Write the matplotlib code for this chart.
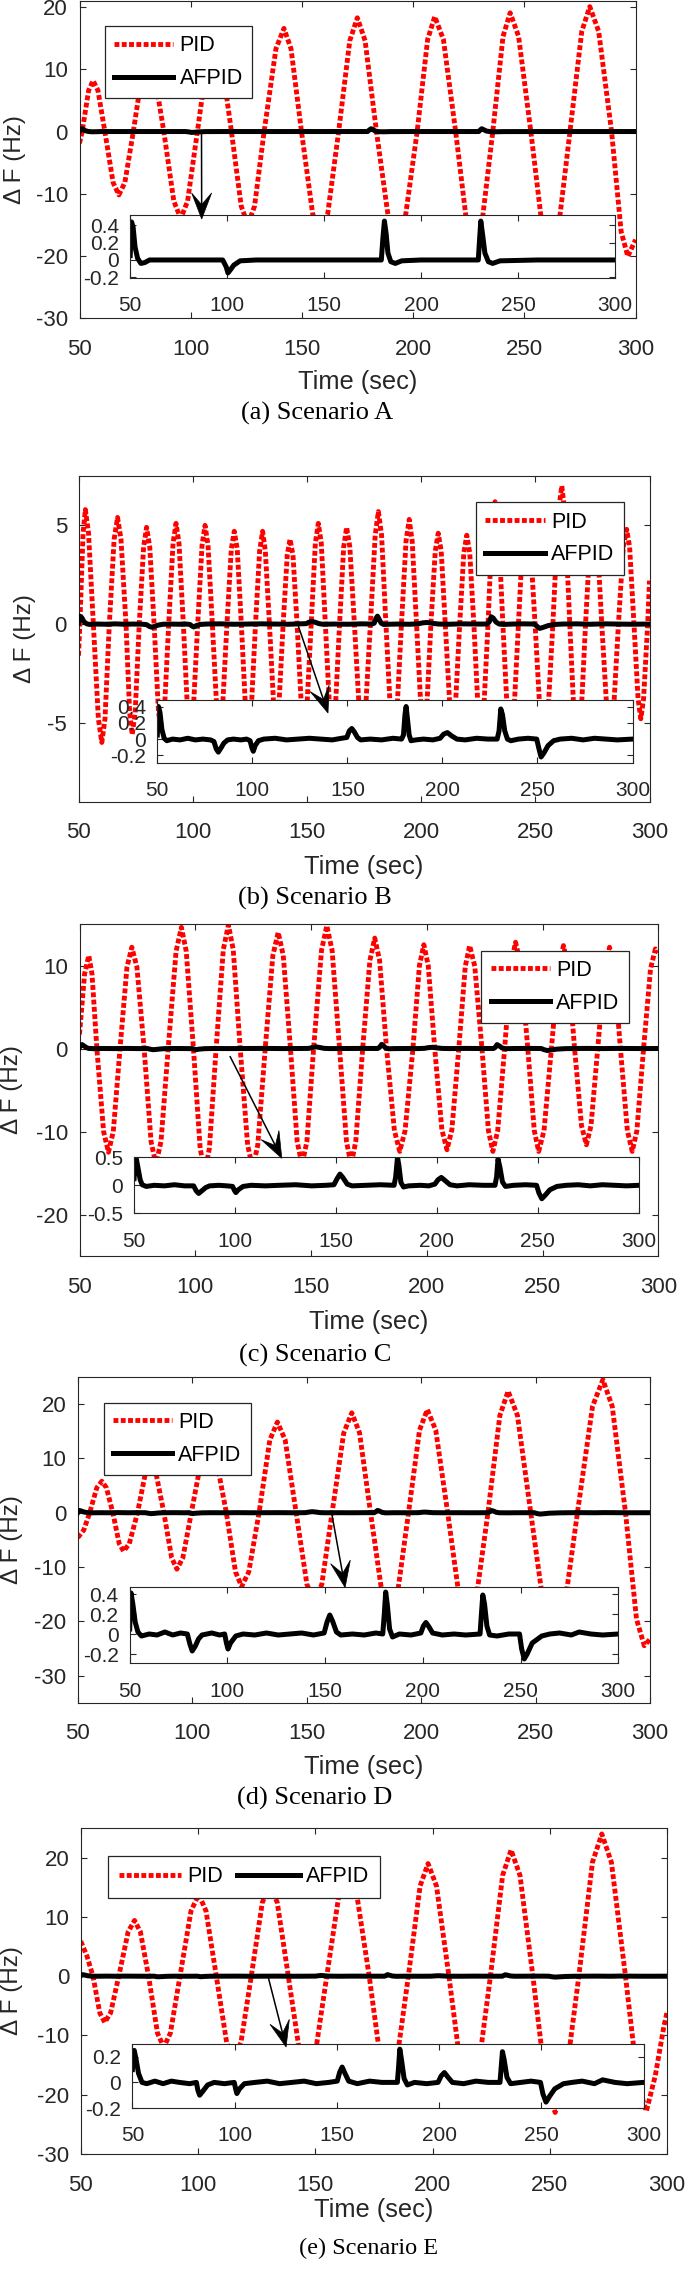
import matplotlib
matplotlib.use("Agg")
import matplotlib.pyplot as plt
from matplotlib.patches import Polygon
from matplotlib.lines import Line2D

plt.rcParams['font.family'] = ['Liberation Sans', 'DejaVu Sans']
plt.rcParams['axes.unicode_minus'] = False

# ------------------------------------------------------------------ data
time_ticks = [50, 100, 150, 200, 250, 300]
series_names = ['PID', 'AFPID']
captions = ['(a) Scenario A', '(b) Scenario B', '(c) Scenario C',
            '(d) Scenario D', '(e) Scenario E']
x_label = 'Time (sec)'
y_label = 'Δ F (Hz)'

pid_a = [(50.0, -1.9), (51.2, 0), (54.1, 6.6), (56.1, 8.2), (58.3, 6.6), (61.4, 0),
         (65.1, -8.2), (67.7, -10.2), (70.4, -8.2), (74.2, 0),
         (78.1, 9.2), (80.8, 11.5), (83.7, 9.2), (87.9, 0),
         (92.4, -11.2), (95.5, -14.0), (98.6, -11.2), (103.0, 0),
         (107.5, 11.6), (110.6, 14.5), (113.8, 11.6), (118.3, 0),
         (122.7, -12.0), (125.7, -15.0), (128.7, -12.0), (133.0, 0),
         (138.3, 13.3), (141.9, 16.6), (145.1, 13.3), (149.8, 0),
         (154.8, -13.2), (158.2, -16.5), (161.6, -13.2), (166.5, 0),
         (171.5, 14.6), (174.9, 18.3), (178.4, 14.6), (183.5, 0),
         (188.9, -14.0), (192.6, -17.5), (196.4, -14.0), (201.8, 0),
         (206.5, 14.8), (209.7, 18.5), (213.6, 14.8), (219.1, 0),
         (224.1, -14.8), (227.5, -18.5), (230.9, -14.8), (235.8, 0),
         (240.4, 15.3), (243.6, 19.1), (247.4, 15.3), (252.9, 0),
         (258.1, -15.6), (261.7, -19.5), (265.3, -15.6), (270.5, 0),
         (275.8, 16.1), (279.4, 20.1), (283.4, 16.1), (289.2, 0),
         (293.5, -16.1), (296.5, -20.1), (300.0, -17.4)]

pid_b = [(50.0, -1.6), (50.6, 0),
         (52.0, 4.6), (53.0, 5.8), (54.4, 4.6), (56.5, 0),
         (58.7, -4.8), (60.2, -6.0), (61.6, -4.8), (63.5, 0),
         (65.6, 4.3), (67.1, 5.4), (68.6, 4.3), (70.8, 0),
         (72.4, -4.5), (73.5, -5.6), (74.8, -4.5), (76.6, 0),
         (78.5, 3.9), (79.8, 4.9), (81.2, 3.9), (83.1, 0),
         (85.0, -4.4), (86.3, -5.5), (87.6, -4.4), (89.5, 0),
         (91.4, 4.1), (92.7, 5.1), (94.0, 4.1), (95.9, 0),
         (97.7, -4.3), (99.0, -5.4), (100.3, -4.3), (102.2, 0),
         (104.1, 4.0), (105.4, 5.0), (106.7, 4.0), (108.6, 0),
         (110.5, -4.2), (111.8, -5.3), (113.1, -4.2), (115.0, 0),
         (116.9, 3.8), (118.2, 4.7), (119.5, 3.8), (121.3, 0),
         (123.1, -4.2), (124.4, -5.2), (125.7, -4.2), (127.5, 0),
         (129.3, 3.7), (130.6, 4.7), (131.8, 3.7), (133.6, 0),
         (135.4, -4.0), (136.6, -5.0), (137.8, -4.0), (139.6, 0),
         (141.4, 3.5), (142.6, 4.3), (143.9, 3.5), (145.7, 0),
         (147.5, -4.0), (148.8, -5.0), (150.1, -4.0), (151.9, 0),
         (153.7, 4.1), (155.0, 5.1), (156.3, 4.1), (158.1, 0),
         (159.9, -4.2), (161.2, -5.2), (162.5, -4.2), (164.3, 0),
         (166.1, 3.9), (167.4, 4.9), (168.8, 3.9), (170.8, 0),
         (172.9, -4.3), (174.3, -5.4), (175.7, -4.3), (177.8, 0),
         (179.9, 4.5), (181.3, 5.7), (182.7, 4.5), (184.6, 0),
         (186.6, -4.5), (188.0, -5.6), (189.4, -4.5), (191.4, 0),
         (193.4, 4.2), (194.8, 5.3), (196.1, 4.2), (198.0, 0),
         (199.9, -4.2), (201.2, -5.2), (202.5, -4.2), (204.3, 0),
         (206.2, 3.7), (207.5, 4.6), (208.8, 3.7), (210.6, 0),
         (212.5, -4.0), (213.8, -5.0), (215.1, -4.0), (216.9, 0),
         (218.7, 3.6), (220.0, 4.5), (221.3, 3.6), (223.1, 0),
         (224.9, -4.2), (226.2, -5.2), (227.5, -4.2), (229.3, 0),
         (231.1, 5.0), (232.4, 6.2), (233.8, 5.0), (235.8, 0),
         (237.8, -4.6), (239.2, -5.8), (240.6, -4.6), (242.6, 0),
         (244.6, 4.5), (246.0, 5.6), (247.6, 4.5), (249.9, 0),
         (252.2, -4.8), (253.8, -6.0), (255.4, -4.8), (257.7, 0),
         (260.0, 5.6), (261.6, 7.0), (263.0, 5.6), (265.1, 0),
         (267.1, -5.0), (268.5, -6.2), (269.9, -5.0), (272.0, 0),
         (274.1, 4.5), (275.5, 5.6), (277.0, 4.5), (279.1, 0),
         (281.3, -4.3), (282.8, -5.4), (284.3, -4.3), (286.4, 0),
         (288.5, 3.9), (290.0, 4.8), (291.3, 3.9), (293.2, 0),
         (295.0, -3.8), (296.2, -4.8), (297.4, -3.8), (299.2, 0),
         (300.0, 2.2)]

pid_c = [(50.0, 1.7), (52.2, 9.0), (54.0, 11.2), (55.4, 9.0), (57.5, 0),
         (60.4, -10.0), (62.5, -12.5), (64.6, -10.0), (67.5, 0),
         (70.5, 9.8), (72.6, 12.2), (74.8, 9.8), (77.9, 0),
         (80.9, -11.2), (83.0, -14.0), (85.2, -11.2), (88.3, 0),
         (91.7, 11.7), (94.0, 14.6), (96.1, 11.7), (99.2, 0),
         (102.1, -12.0), (104.1, -15.0), (106.1, -12.0), (109.0, 0),
         (112.1, 11.9), (114.3, 14.9), (116.4, 11.9), (119.4, 0),
         (122.6, -11.6), (124.8, -14.5), (127.0, -11.6), (130.2, 0),
         (133.5, 11.2), (135.8, 14.0), (138.0, 11.2), (141.1, 0),
         (144.0, -11.2), (146.1, -14.0), (148.2, -11.2), (151.1, 0),
         (154.5, 11.8), (156.8, 14.8), (159.1, 11.8), (162.3, 0),
         (165.3, -11.2), (167.3, -14.0), (169.3, -11.2), (172.3, 0),
         (175.4, 10.6), (177.5, 13.3), (179.6, 10.6), (182.6, 0),
         (186.0, -9.9), (188.3, -12.4), (190.6, -9.9), (194.0, 0),
         (196.8, 10.0), (198.7, 12.5), (200.6, 10.0), (203.4, 0),
         (206.5, -9.8), (208.7, -12.2), (210.8, -9.8), (213.8, 0),
         (216.6, 9.9), (218.5, 12.4), (220.7, 9.9), (223.8, 0),
         (226.6, -9.9), (228.5, -12.4), (230.6, -9.9), (233.6, 0),
         (236.4, 10.2), (238.3, 12.8), (240.5, 10.2), (243.6, 0),
         (246.4, -9.9), (248.3, -12.4), (250.6, -9.9), (253.8, 0),
         (256.9, 9.9), (259.0, 12.4), (261.0, 9.9), (263.8, 0),
         (266.8, -9.3), (268.9, -11.6), (270.9, -9.3), (273.8, 0),
         (276.8, 9.8), (278.9, 12.2), (280.8, 9.8), (283.6, 0),
         (286.6, -9.9), (288.7, -12.4), (290.7, -9.9), (293.6, 0),
         (296.6, 9.6), (298.7, 12.0), (300.0, 11.6)]

pid_d = [(50.0, -4.6), (52.6, -3.2), (55.2, 0),
         (58.3, 4.6), (60.5, 5.8), (62.5, 4.6), (65.3, 0),
         (68.1, -5.7), (70.0, -7.1), (72.5, -5.7), (76.1, 0),
         (79.5, 7.2), (81.9, 9.0), (84.2, 7.2), (87.6, 0),
         (91.0, -8.3), (93.3, -10.4), (95.9, -8.3), (99.6, 0),
         (104.1, 10.0), (107.3, 12.5), (110.4, 10.0), (114.9, 0),
         (118.9, -10.9), (121.6, -13.6), (124.7, -10.9), (129.2, 0),
         (133.9, 13.4), (137.2, 16.7), (140.6, 13.4), (145.4, 0),
         (150.1, -13.2), (153.4, -16.5), (156.6, -13.2), (161.1, 0),
         (166.2, 14.7), (169.7, 18.4), (173.1, 14.7), (177.9, 0),
         (182.9, -14.8), (186.3, -18.5), (189.7, -14.8), (194.5, 0),
         (199.3, 15.2), (202.7, 19.0), (206.4, 15.2), (211.6, 0),
         (216.8, -16.0), (220.4, -20.0), (224.0, -16.0), (229.2, 0),
         (234.4, 17.9), (238.0, 22.4), (242.1, 17.9), (247.9, 0),
         (253.9, -18.4), (258.1, -23.0), (262.3, -18.4), (268.3, 0),
         (274.9, 19.6), (279.4, 24.5), (283.5, 19.6), (289.3, 0),
         (294.1, -19.6), (297.5, -24.5), (300.0, -23.3)]

pid_e = [(50.0, 5.9), (52.7, 3.3), (55.2, 0),
         (58.1, -6.2), (60.2, -7.8), (62.7, -6.2), (66.2, 0),
         (70.2, 7.5), (72.9, 9.4), (75.4, 7.5), (78.9, 0),
         (82.7, -9.6), (85.4, -12.0), (88.2, -9.6), (92.3, 0),
         (97.0, 11.0), (100.3, 13.8), (103.4, 11.0), (107.8, 0),
         (112.2, -11.2), (115.2, -14.0), (118.3, -11.2), (122.7, 0),
         (127.4, 12.4), (130.6, 15.5), (133.8, 12.4), (138.5, 0),
         (143.3, -12.8), (146.7, -16.0), (150.1, -12.8), (154.9, 0),
         (160.2, 14.0), (163.8, 17.5), (167.6, 14.0), (173.0, 0),
         (177.9, -14.4), (181.3, -18.0), (184.7, -14.4), (189.7, 0),
         (194.7, 15.2), (198.1, 19.0), (201.7, 15.2), (207.0, 0),
         (212.2, -16.0), (215.8, -20.0), (219.4, -16.0), (224.7, 0),
         (229.9, 17.0), (233.5, 21.3), (237.3, 17.0), (242.8, 0),
         (248.4, -18.4), (252.3, -23.0), (256.4, -18.4), (262.4, 0),
         (268.2, 19.2), (272.2, 24.0), (276.3, 19.2), (282.3, 0),
         (287.6, -18.2), (291.2, -22.8), (295.0, -16.8), (298.7, -8.4),
         (300.0, -6.1)]

afpid_a = [(50.0, 0.05), (50.7, 0.44), (51.5, 0.38), (52.5, 0.15), (53.8, 0.02),
           (55.5, -0.04), (57.5, -0.03), (60.0, 0.0), (75.0, 0.0), (90.0, 0.0),
           (97.7, 0.0), (99.5, -0.08), (100.4, -0.15), (101.8, -0.11), (103.4, -0.06),
           (106.7, -0.01), (115.0, 0.0), (140.0, 0.0), (160.0, 0.0), (179.5, 0.0),
           (180.3, 0.25), (181.1, 0.45), (182.0, 0.30), (182.9, 0.08), (184.4, -0.02),
           (186.7, -0.04), (190.0, -0.01), (200.0, 0.0), (215.0, 0.0), (229.5, 0.0),
           (230.2, 0.25), (230.8, 0.45), (231.8, 0.28), (232.9, 0.08), (234.7, -0.02),
           (236.9, -0.04), (240.7, -0.01), (260.0, 0.0), (280.0, 0.0), (300.0, 0.0)]

afpid_b = [(50.0, 0.05), (50.6, 0.40), (51.4, 0.33), (52.4, 0.12), (53.6, 0.01),
           (55.0, -0.02), (58.0, 0.0), (62.0, -0.01), (66.0, 0.01), (70.0, -0.01),
           (74.0, 0.0), (78.0, -0.01), (79.8, -0.03), (81.0, -0.12), (82.1, -0.16),
           (83.5, -0.11), (85.0, -0.05), (87.0, -0.01), (90.0, 0.0), (94.0, -0.01),
           (97.0, 0.0), (98.8, -0.02), (99.8, -0.11), (100.5, -0.15), (101.5, -0.08),
           (103.2, -0.02), (106.0, 0.0), (112.0, 0.01), (118.0, -0.01), (124.0, 0.0),
           (130.0, 0.01), (136.0, 0.0), (142.0, -0.01), (147.0, 0.01), (149.7, 0.02),
           (151.0, 0.10), (152.3, 0.13), (153.6, 0.09), (155.3, 0.02), (157.0, -0.01),
           (162.0, 0.0), (168.0, -0.01), (174.0, 0.01), (178.5, 0.0), (179.5, 0.05),
           (180.3, 0.30), (180.9, 0.40), (181.6, 0.25), (182.5, 0.05), (183.5, -0.02),
           (186.0, -0.01), (190.0, 0.0), (195.0, -0.01), (198.8, 0.01), (200.6, 0.06),
           (202.6, 0.08), (204.8, 0.04), (207.6, 0.0), (212.0, -0.01), (218.0, 0.01),
           (224.0, 0.0), (228.8, 0.0), (229.8, 0.10), (230.7, 0.37), (231.6, 0.30),
           (232.8, 0.10), (234.2, 0.0), (236.0, -0.02), (240.0, 0.0), (245.0, 0.01),
           (249.6, 0.0), (250.8, -0.12), (251.9, -0.22), (253.4, -0.17), (255.6, -0.08),
           (258.5, -0.02), (262.0, 0.0), (268.0, 0.01), (274.0, -0.01), (280.0, 0.01),
           (286.0, 0.0), (292.0, -0.01), (300.0, 0.0)]

afpid_c = [(50.0, 0.12), (50.6, 0.42), (51.1, 0.47), (52.0, 0.30), (53.0, 0.10),
           (54.0, 0.01), (56.0, -0.02), (60.0, 0.0), (65.0, -0.01), (70.0, 0.01),
           (75.0, -0.01), (79.5, -0.01), (80.8, -0.10), (82.0, -0.145), (83.5, -0.10),
           (85.5, -0.04), (87.4, -0.01), (92.0, 0.0), (96.0, -0.01), (98.8, -0.02),
           (99.7, -0.09), (100.4, -0.13), (101.6, -0.08), (104.0, -0.02), (108.0, 0.0),
           (115.0, -0.01), (122.0, 0.0), (130.0, 0.01), (138.0, -0.01), (145.0, 0.0),
           (149.0, 0.01), (150.6, 0.12), (152.0, 0.20), (153.4, 0.14), (155.6, 0.02),
           (158.0, -0.01), (165.0, 0.0), (172.0, 0.01), (178.8, 0.0), (179.6, 0.15),
           (180.5, 0.50), (181.2, 0.35), (182.2, 0.05), (183.5, -0.03), (186.0, -0.01),
           (192.0, 0.0), (196.0, -0.01), (199.0, 0.02), (200.6, 0.10), (202.2, 0.14),
           (204.2, 0.08), (206.5, 0.01), (210.0, -0.01), (216.0, 0.01), (223.0, 0.0),
           (228.8, 0.0), (229.6, 0.15), (230.3, 0.47), (231.2, 0.33), (232.5, 0.06),
           (234.0, -0.02), (238.0, 0.0), (244.0, 0.01), (249.4, 0.0), (250.6, -0.14),
           (252.0, -0.24), (253.6, -0.18), (256.0, -0.08), (259.5, -0.02), (264.0, 0.0),
           (270.0, 0.01), (276.0, -0.01), (282.0, 0.01), (288.0, 0.0), (294.0, -0.01),
           (300.0, 0.0)]

afpid_d = [(50.0, 0.05), (50.3, 0.30), (50.7, 0.41), (51.6, 0.30), (52.8, 0.12),
           (54.2, 0.02), (56.0, -0.02), (60.0, 0.0), (64.0, -0.01), (68.0, 0.02),
           (72.0, -0.01), (76.0, 0.01), (79.5, 0.0), (80.8, -0.10), (82.0, -0.17),
           (83.6, -0.12), (85.2, -0.05), (87.0, -0.01), (92.0, 0.01), (96.0, -0.01),
           (98.6, 0.0), (99.5, -0.09), (100.3, -0.15), (101.6, -0.09), (104.3, -0.02),
           (108.0, 0.0), (114.0, -0.01), (120.0, 0.01), (126.0, -0.01), (132.0, 0.0),
           (138.0, 0.01), (144.0, -0.01), (149.5, 0.01), (151.0, 0.12), (152.4, 0.19),
           (153.8, 0.13), (155.8, 0.02), (158.0, -0.01), (164.0, 0.0), (170.0, -0.01),
           (176.0, 0.01), (179.5, 0.0), (180.3, 0.20), (181.0, 0.42), (181.8, 0.30),
           (183.0, 0.05), (184.5, -0.03), (188.0, 0.0), (194.0, -0.01), (199.0, 0.01),
           (200.3, 0.08), (201.6, 0.115), (203.2, 0.07), (205.0, 0.01), (210.0, -0.01),
           (216.0, 0.0), (222.0, -0.01), (229.3, 0.0), (230.0, 0.20), (230.7, 0.39),
           (231.6, 0.30), (232.8, 0.08), (234.2, -0.01), (238.0, -0.02), (244.0, 0.0),
           (249.5, 0.0), (250.6, -0.15), (251.9, -0.25), (253.4, -0.20), (256.0, -0.09),
           (260.9, -0.02), (265.0, 0.0), (270.0, 0.01), (276.0, -0.01), (280.0, 0.02),
           (286.0, 0.0), (292.0, -0.01), (300.0, 0.0)]

afpid_e = [(50.0, 0.10), (50.4, 0.22), (50.9, 0.25), (51.8, 0.18), (53.0, 0.07),
           (54.7, 0.0), (57.0, -0.01), (61.0, 0.01), (65.0, -0.01), (69.0, 0.01),
           (73.0, 0.0), (78.0, -0.01), (81.3, 0.0), (82.0, -0.06), (82.9, -0.10),
           (84.4, -0.07), (86.8, -0.02), (90.0, 0.0), (95.0, -0.01), (99.8, 0.0),
           (100.5, -0.05), (101.1, -0.087), (102.4, -0.05), (104.8, -0.01), (110.0, 0.0),
           (116.0, 0.01), (122.0, -0.01), (128.0, 0.0), (134.0, 0.01), (140.0, -0.01),
           (146.0, 0.0), (150.2, 0.01), (151.4, 0.08), (152.6, 0.12), (154.0, 0.07),
           (155.8, 0.01), (160.0, -0.01), (166.0, 0.01), (172.0, 0.0), (179.6, 0.0),
           (180.2, 0.12), (180.8, 0.26), (181.6, 0.18), (182.9, 0.03), (184.5, -0.02),
           (188.0, 0.0), (194.0, -0.01), (199.5, 0.0), (201.0, 0.05), (202.6, 0.077),
           (204.4, 0.04), (206.5, 0.0), (212.0, -0.01), (218.0, 0.01), (224.0, 0.0),
           (229.8, 0.0), (230.4, 0.12), (231.0, 0.24), (231.8, 0.18), (233.2, 0.04),
           (235.0, -0.01), (240.0, 0.0), (245.0, 0.01), (249.6, 0.0), (250.8, -0.09),
           (252.3, -0.154), (254.0, -0.11), (256.6, -0.05), (260.9, -0.01), (265.0, 0.0),
           (270.0, 0.01), (276.0, -0.01), (280.0, 0.02), (286.0, 0.0), (292.0, -0.01),
           (300.0, 0.0)]

main_yticks = [[-30, -20, -10, 0, 10, 20], [-5, 0, 5], [-20, -10, 0, 10],
               [-30, -20, -10, 0, 10, 20], [-30, -20, -10, 0, 10, 20]]
inset_yticks = [[-0.2, 0, 0.2, 0.4], [-0.2, 0, 0.2, 0.4], [-0.5, 0, 0.5],
                [-0.2, 0, 0.2, 0.4], [-0.2, 0, 0.2]]
inset_yticklabels = [['-0.2', '0', '0.2', '0.4'], ['-0.2', '0', '0.2', '0.4'],
                     ['-0.5', '0', '0.5'], ['-0.2', '0', '0.2', '0.4'],
                     ['-0.2', '0', '0.2']]
pid_series = [pid_a, pid_b, pid_c, pid_d, pid_e]
afpid_series = [afpid_a, afpid_b, afpid_c, afpid_d, afpid_e]

# ------------------------------------------------------------------ layout (pixels)
W, H = 685, 2269
layout = [
    dict(main=(79.5, 635.6, 1.0, 318.0), ylim=(-30, 21.0),
         inset=(130.2, 615.0, 215.0, 277.7), iylim=(-0.205, 0.52),
         legend=(104.8, 26.0), ncol=1, arrow=((201.5, 131.7), (201.7, 219.0)),
         ylab_x=15.3, xlab_y=382.0, cap=(317.0, 413.0), capsize=19.0),
    dict(main=(78.5, 649.5, 476.0, 801.7), ylim=(-9.0, 7.5),
         inset=(157.3, 632.5, 700.0, 762.7), iylim=(-0.29, 0.48),
         legend=(476.2, 502.3), ncol=1, arrow=((298.0, 625.0), (328.0, 713.0)),
         ylab_x=25.0, xlab_y=866.7, cap=(315.0, 898.0), capsize=19.0),
    dict(main=(79.5, 658.4, 924.0, 1256.0), ylim=(-25, 15),
         inset=(134.1, 638.7, 1157.3, 1213.3), iylim=(-0.5, 0.5),
         legend=(481.4, 950.7), ncol=1, arrow=((230.2, 1056.7), (281.8, 1158.3)),
         ylab_x=12.0, xlab_y=1322.0, cap=(314.7, 1355.0), capsize=19.0),
    dict(main=(77.8, 650.0, 1377.0, 1702.7), ylim=(-35, 25),
         inset=(129.7, 618.2, 1587.3, 1663.3), iylim=(-0.293, 0.467),
         legend=(103.5, 1402.7), ncol=1, arrow=((332.0, 1515.0), (345.1, 1587.5)),
         ylab_x=11.6, xlab_y=1766.7, cap=(314.5, 1798.3), capsize=19.0),
    dict(main=(80.8, 667.0, 1828.0, 2154.0), ylim=(-30, 25),
         inset=(132.4, 643.5, 2044.0, 2108.0), iylim=(-0.2, 0.3),
         legend=(108.0, 1855.7), ncol=2, arrow=((268.7, 1979.0), (286.1, 2047.0)),
         ylab_x=11.6, xlab_y=2210.0, cap=(368.3, 2248.5), capsize=17.5),
]

INK = '#262626'
PID_STYLE = dict(color='#ff0000', lw=3.5, linestyle=(0, (1.0, 0.5)))
AF_STYLE = dict(color='black', lw=3.6, solid_joinstyle='round')

fig = plt.figure(figsize=(W / 100, H / 100), dpi=100)
fig.patch.set_facecolor('white')


def fpt(x, y):
    return (x / W, 1 - y / H)


def fbox(x0, x1, ytop, ybot):
    return [x0 / W, 1 - ybot / H, (x1 - x0) / W, (ybot - ytop) / H]


def style(ax, size, xpad, ypad):
    for s in ax.spines.values():
        s.set_linewidth(0.8)
        s.set_color(INK)
    ax.tick_params(direction='in', length=4.6, width=0.8, color=INK,
                   labelcolor=INK, labelsize=size, top=True, right=True)
    ax.tick_params(axis='x', pad=xpad)
    ax.tick_params(axis='y', pad=ypad)


def arrow(p0, p1, head_len=26.0, head_half=10.0, notch=0.55):
    (x0, y0), (x1, y1) = p0, p1
    d = ((x1 - x0) ** 2 + (y1 - y0) ** 2) ** 0.5
    ux, uy = (x1 - x0) / d, (y1 - y0) / d
    nx, ny = -uy, ux
    bx, by = x1 - head_len * ux, y1 - head_len * uy
    kx, ky = x1 - notch * head_len * ux, y1 - notch * head_len * uy
    shaft = Line2D([fpt(x0, y0)[0], fpt(kx, ky)[0]], [fpt(x0, y0)[1], fpt(kx, ky)[1]],
                   transform=fig.transFigure, color='black', lw=1.1, zorder=10)
    head = Polygon([fpt(x1, y1), fpt(bx + head_half * nx, by + head_half * ny),
                    fpt(kx, ky), fpt(bx - head_half * nx, by - head_half * ny)],
                   closed=True, transform=fig.transFigure, facecolor='black',
                   edgecolor='black', lw=0.5, zorder=11)
    fig.add_artist(shaft)
    fig.add_artist(head)


for i, L in enumerate(layout):
    x0, x1, yt, yb = L['main']
    ax = fig.add_axes(fbox(*L['main']))
    ax.set_zorder(1)
    t, v = zip(*pid_series[i])
    ax.plot(t, v, label=series_names[0], zorder=2, **PID_STYLE)
    ta, va = zip(*afpid_series[i])
    ax.plot(ta, va, label=series_names[1], zorder=3, **AF_STYLE)
    ax.set_xlim(50, 300)
    ax.set_ylim(*L['ylim'])
    ax.set_xticks(time_ticks)
    ax.set_yticks(main_yticks[i])
    style(ax, 16, 14.8, 8.3)
    ax.set_xlabel(x_label, fontsize=18.3, color=INK)
    ax.xaxis.set_label_coords(0.5, (yb - L['xlab_y']) / (yb - yt))
    ax.xaxis.label.set_va('center')
    ax.set_ylabel(y_label, fontsize=17.5, color=INK)
    ax.yaxis.set_label_coords((L['ylab_x'] - x0) / (x1 - x0), 0.5)
    ax.yaxis.label.set_va('center')

    lx, ly = L['legend']
    if L['ncol'] == 1:
        kw = dict(borderpad=0.43, labelspacing=0.55, handlelength=2.75,
                  handletextpad=0.3)
    else:
        kw = dict(borderpad=0.5, handlelength=2.9, handletextpad=0.3,
                  columnspacing=0.64)
    leg = ax.legend(loc='upper left', bbox_to_anchor=fpt(lx, ly),
                    bbox_transform=fig.transFigure, borderaxespad=0,
                    ncol=L['ncol'], fontsize=15.5, frameon=True, fancybox=False,
                    framealpha=1, edgecolor=INK, **kw)
    leg.get_frame().set_linewidth(0.9)

    ins = fig.add_axes(fbox(*L['inset']))
    ins.set_zorder(2)
    ins.set_facecolor('white')
    ins.plot(ta, va, **AF_STYLE)
    ins.set_xlim(50, 300)
    ins.set_ylim(*L['iylim'])
    ins.set_xticks(time_ticks)
    ins.set_yticks(inset_yticks[i], inset_yticklabels[i])
    style(ins, 15, 13.3, 8.0)

    arrow(*L['arrow'])

    cx, cy = L['cap']
    fig.text(cx / W, 1 - cy / H, captions[i], ha='center', va='center',
             fontsize=L['capsize'], family=['Liberation Serif', 'DejaVu Serif'],
             color='black')

fig.savefig('out.png', dpi=100, facecolor='white')
